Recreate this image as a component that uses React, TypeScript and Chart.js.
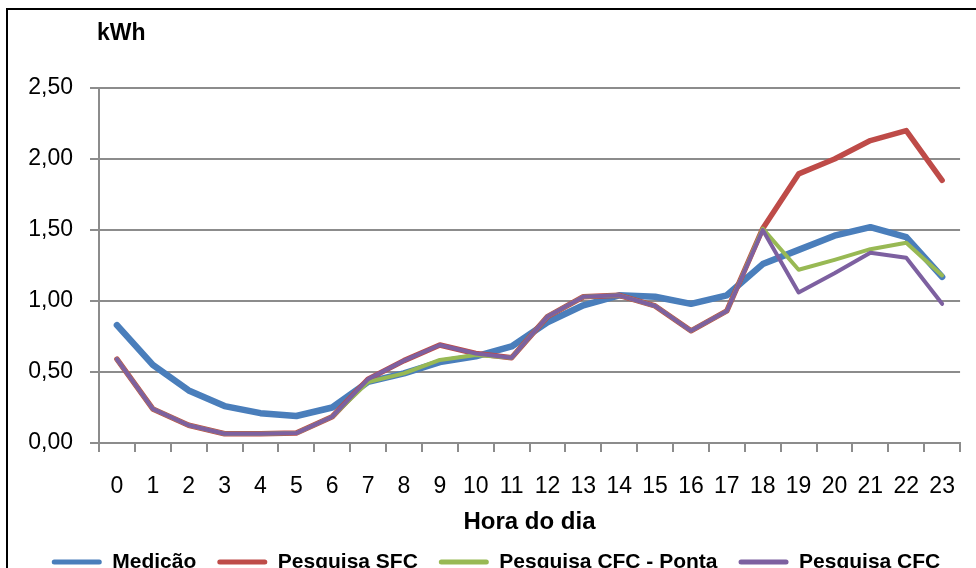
import React, { useEffect, useRef } from 'react';
import { Chart, registerables } from 'chart.js';

Chart.register(...registerables);

const hours = ['0', '1', '2', '3', '4', '5', '6', '7', '8', '9', '10', '11', '12', '13', '14', '15', '16', '17', '18', '19', '20', '21', '22', '23'];
const medicao = [0.83, 0.55, 0.37, 0.26, 0.21, 0.19, 0.25, 0.43, 0.49, 0.57, 0.61, 0.68, 0.85, 0.97, 1.04, 1.03, 0.98, 1.04, 1.26, 1.36, 1.46, 1.52, 1.45, 1.17];
const pesquisaSFC = [0.59, 0.24, 0.125, 0.065, 0.065, 0.07, 0.185, 0.45, 0.58, 0.69, 0.63, 0.6, 0.89, 1.03, 1.04, 0.965, 0.79, 0.93, 1.51, 1.895, 2.0, 2.13, 2.2, 1.85];
const pesquisaCFCPonta = [0.59, 0.24, 0.125, 0.065, 0.065, 0.07, 0.185, 0.43, 0.49, 0.585, 0.62, 0.6, 0.89, 1.03, 1.04, 0.965, 0.79, 0.93, 1.51, 1.22, 1.29, 1.365, 1.41, 1.18];
const pesquisaCFC = [0.59, 0.24, 0.125, 0.065, 0.065, 0.07, 0.185, 0.45, 0.58, 0.69, 0.63, 0.6, 0.89, 1.03, 1.04, 0.965, 0.79, 0.93, 1.5, 1.06, 1.195, 1.34, 1.305, 0.98];
const yTicks = [0, 0.5, 1, 1.5, 2, 2.5];
const seriesNames = ['Medição', 'Pesquisa SFC', 'Pesquisa CFC - Ponta', 'Pesquisa CFC'];
const unitLabel = 'kWh';
const xAxisTitle = 'Hora do dia';

const FONT = '"Liberation Sans", Arial, sans-serif';
const GRID = '#8c8c8c';

const unitLabelPlugin = {
  id: 'unitLabel',
  afterDraw(chart: any) {
    const ctx = chart.ctx;
    ctx.save();
    ctx.font = `bold 23px ${FONT}`;
    ctx.fillStyle = '#000';
    ctx.textAlign = 'left';
    ctx.textBaseline = 'middle';
    ctx.fillText(unitLabel, 97, 34);
    ctx.restore();
  },
};

export default function App() {
  const canvasRef = useRef<HTMLCanvasElement | null>(null);

  useEffect(() => {
    if (!canvasRef.current) return;
    const mk = (label: string, data: number[], color: string, width: number, order: number) => ({
      label,
      data,
      borderColor: color,
      backgroundColor: color,
      borderWidth: width,
      pointRadius: 0,
      pointHoverRadius: 0,
      tension: 0,
      fill: false,
      borderCapStyle: 'round',
      borderJoinStyle: 'round',
      order,
    });
    const chart = new Chart(canvasRef.current, {
      type: 'line',
      data: {
        labels: hours,
        datasets: [
          mk(seriesNames[0], medicao, '#4A7EBB', 6.5, 4),
          mk(seriesNames[1], pesquisaSFC, '#BE4B48', 5.5, 3),
          mk(seriesNames[2], pesquisaCFCPonta, '#98B954', 4, 2),
          mk(seriesNames[3], pesquisaCFC, '#7D60A0', 4, 1),
        ] as any,
      },
      options: {
        responsive: false,
        animation: false,
        events: [],
        layout: { padding: { left: 20, right: 4, top: 88, bottom: -14.5 } },
        plugins: {
          tooltip: { enabled: false },
          title: { display: false },
          legend: {
            display: true,
            position: 'bottom',
            align: 'center',
            labels: {
              font: { family: FONT, size: 21, weight: 'bold' },
              color: '#000',
              boxWidth: 50,
              boxHeight: 5,
              padding: 21,
              useBorderRadius: true,
              borderRadius: 2.5,
              sort: (a: any, b: any) => a.datasetIndex - b.datasetIndex,
              generateLabels: (chart: any) => {
                const items = (Chart.defaults.plugins.legend.labels as any).generateLabels(chart);
                return items.map((it: any) => ({ ...it, lineWidth: 0, fillStyle: it.strokeStyle, borderRadius: 2.5 }));
              },
            },
          },
        },
        scales: {
          x: {
            type: 'category',
            offset: true,
            afterFit: (scale: any) => {
              scale.height = 87.5;
            },
            grid: {
              display: true,
              offset: true,
              drawOnChartArea: false,
              drawTicks: true,
              tickLength: 9,
              color: GRID,
              lineWidth: 2,
            },
            border: { display: true, color: GRID, width: 2 },
            ticks: {
              autoSkip: false,
              maxRotation: 0,
              minRotation: 0,
              padding: 21,
              color: '#000',
              font: { family: FONT, size: 23 },
            },
            title: {
              display: true,
              text: xAxisTitle,
              color: '#000',
              font: { family: FONT, size: 24, weight: 'bold' },
              padding: { top: 0, bottom: -6 },
            },
          },
          y: {
            type: 'linear',
            min: 0,
            max: 2.5,
            afterFit: (scale: any) => {
              scale.width = 79;
            },
            afterBuildTicks: (scale: any) => {
              scale.ticks = yTicks.map((v) => ({ value: v }));
            },
            grid: {
              display: true,
              drawOnChartArea: true,
              drawTicks: true,
              tickLength: 9,
              color: GRID,
              lineWidth: 2,
            },
            border: { display: true, color: GRID, width: 2 },
            ticks: {
              padding: 17,
              color: '#000',
              font: { family: FONT, size: 23 },
              callback: (v: any) => Number(v).toFixed(2).replace('.', ','),
            },
          },
        },
      } as any,
      plugins: [unitLabelPlugin],
    });
    return () => chart.destroy();
  }, []);

  return (
    <div style={{ position: 'fixed', left: 0, top: 0, width: 976, height: 568, overflow: 'hidden', background: '#fff' }}>
      <div
        style={{
          position: 'absolute',
          left: 6,
          top: 8,
          width: 1200,
          height: 1200,
          border: '2px solid #000',
          boxSizing: 'border-box',
        }}
      />
      <canvas ref={canvasRef} width={976} height={568} style={{ position: 'absolute', left: 0, top: 0, width: 976, height: 568 }} />
    </div>
  );
}
